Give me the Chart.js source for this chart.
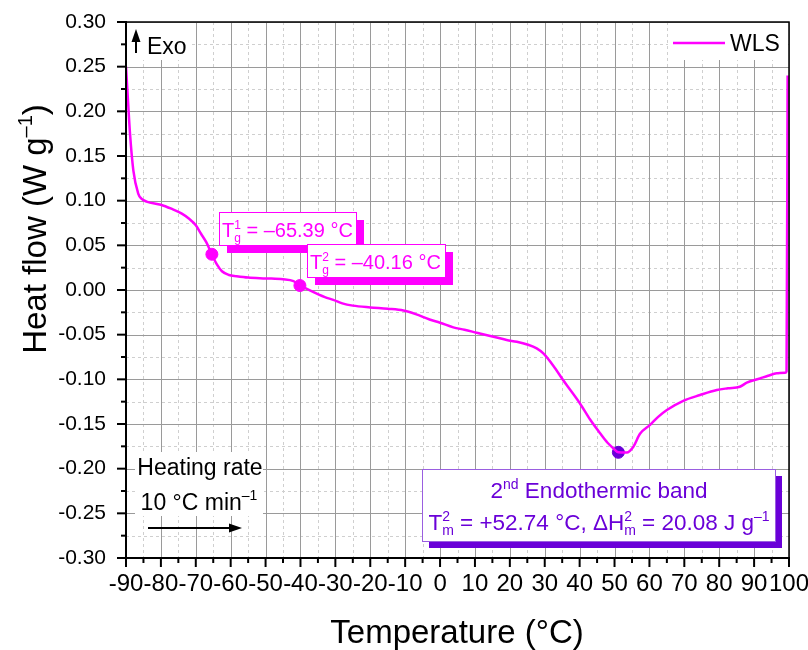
<!DOCTYPE html>
<html>
<head>
<meta charset="utf-8">
<script src="https://cdn.jsdelivr.net/npm/chart.js@4"></script>
<style>
  body { margin: 0; background: #fff; }
</style>
</head>
<body>
<canvas id="dsc" width="808" height="650"></canvas>
<script>
// DSC curve
const temps = [-90, -89.4, -88.85, -87.9, -86.5, -85.5, -84.1, -80, -77, -74, -72, -70, -68.5, -67, -65.4, -64, -62.5, -60.5, -58.3, -55,
  -50, -45, -42, -40.2, -37, -33, -30.6, -28, -25, -20, -15, -10.5, -7, -3, 0, 3.8, 7, 10.5, 15, 19.1,
  22, 25, 27.7, 29.6, 32.5, 35.3, 40.1, 43, 45.8, 48, 49.6, 51.1, 53.5, 55.4, 57.3, 60.2, 62.5, 65, 69.7, 74.5,
  79.3, 82.5, 85.9, 87.9, 91.7, 94, 96.5, 98.9, 99.3, 99.6];
const heatFlow = [0.25, 0.21, 0.175, 0.134, 0.108, 0.102, 0.099, 0.0955, 0.091, 0.0855, 0.080, 0.0725, 0.063, 0.0535, 0.040, 0.029, 0.021, 0.0168, 0.0155, 0.014,
  0.013, 0.012, 0.010, 0.0055, -0.001, -0.008, -0.011, -0.015, -0.0175, -0.0195, -0.021, -0.023, -0.027, -0.033, -0.0366, -0.0418, -0.0445, -0.0478, -0.052, -0.056,
  -0.058, -0.061, -0.0653, -0.071, -0.085, -0.101, -0.127, -0.145, -0.160, -0.171, -0.177, -0.1817, -0.182, -0.1754, -0.161, -0.151, -0.142, -0.1343, -0.124, -0.1176,
  -0.112, -0.110, -0.1083, -0.1038, -0.099, -0.096, -0.0933, -0.0926, -0.091, 0.24];

// marked points
const tgTemps = [-65.39, -40.16];
const tgFlow = [0.040, 0.005];
const tmTemps = [51.1];
const tmFlow = [-0.1817];

const FONT = '"Liberation Sans", Arial, sans-serif';
const MAGENTA = '#ff00ff';
const PURPLE = '#6a00d8';

// draw text with sub/superscripts: segs = [{t}, {sup}, {sub, sup}]
function richWidth(ctx, segs, size) {
  let w = 0;
  segs.forEach(s => {
    if (s.t !== undefined) {
      ctx.font = size + 'px ' + FONT;
      w += ctx.measureText(s.t).width;
    } else {
      ctx.font = Math.round(size * 0.62) + 'px ' + FONT;
      w += Math.max(s.sub ? ctx.measureText(s.sub).width : 0, s.sup ? ctx.measureText(s.sup).width : 0);
    }
  });
  return w;
}
function drawRich(ctx, segs, x, y, size, color, align) {
  let w = richWidth(ctx, segs, size);
  if (align === 'center') x -= w / 2;
  ctx.fillStyle = color;
  ctx.textAlign = 'left';
  ctx.textBaseline = 'alphabetic';
  segs.forEach(s => {
    if (s.t !== undefined) {
      ctx.font = size + 'px ' + FONT;
      ctx.fillText(s.t, x, y);
      x += ctx.measureText(s.t).width;
    } else {
      ctx.font = Math.round(size * 0.62) + 'px ' + FONT;
      let ww = 0;
      if (s.sup) { ctx.fillText(s.sup, x, y - size * 0.42); ww = ctx.measureText(s.sup).width; }
      if (s.sub) { ctx.fillText(s.sub, x, y + size * 0.24); ww = Math.max(ww, ctx.measureText(s.sub).width); }
      x += ww;
    }
  });
}
function arrow(ctx, x1, y1, x2, y2) {
  const a = Math.atan2(y2 - y1, x2 - x1);
  ctx.strokeStyle = '#000';
  ctx.fillStyle = '#000';
  ctx.lineWidth = 2;
  ctx.beginPath();
  ctx.moveTo(x1, y1);
  ctx.lineTo(x2 - 8 * Math.cos(a), y2 - 8 * Math.sin(a));
  ctx.stroke();
  ctx.beginPath();
  ctx.moveTo(x2, y2);
  ctx.lineTo(x2 - 13 * Math.cos(a) + 4.5 * Math.sin(a), y2 - 13 * Math.sin(a) - 4.5 * Math.cos(a));
  ctx.lineTo(x2 - 13 * Math.cos(a) - 4.5 * Math.sin(a), y2 - 13 * Math.sin(a) + 4.5 * Math.cos(a));
  ctx.closePath();
  ctx.fill();
}
function box(ctx, x, y, w, h, color, border, shadow) {
  ctx.fillStyle = color;
  ctx.fillRect(x + shadow, y + shadow, w, h);
  ctx.fillStyle = '#fff';
  ctx.fillRect(x, y, w, h);
  ctx.strokeStyle = border;
  ctx.lineWidth = 1;
  ctx.strokeRect(x + 0.5, y + 0.5, w, h);
}

// grid, frame, ticks and the texts inside the plot
const decor = {
  id: 'decor',
  beforeDatasetsDraw(chart) {
    const { ctx, chartArea: a, scales: { x, y } } = chart;
    ctx.save();
    ctx.lineWidth = 1;
    // minor dashed
    ctx.strokeStyle = '#cfcfcf';
    ctx.setLineDash([3, 3]);
    for (let v = -85; v < 100; v += 10) {
      const px = Math.round(x.getPixelForValue(v)) + 0.5;
      ctx.beginPath(); ctx.moveTo(px, a.top); ctx.lineTo(px, a.bottom); ctx.stroke();
    }
    for (let v = -0.275; v < 0.3; v += 0.05) {
      const py = Math.round(y.getPixelForValue(v)) + 0.5;
      ctx.beginPath(); ctx.moveTo(a.left, py); ctx.lineTo(a.right, py); ctx.stroke();
    }
    // major solid
    ctx.setLineDash([]);
    ctx.strokeStyle = '#9a9a9a';
    x.ticks.forEach(t => {
      const px = Math.round(x.getPixelForValue(t.value)) + 0.5;
      ctx.beginPath(); ctx.moveTo(px, a.top); ctx.lineTo(px, a.bottom); ctx.stroke();
    });
    y.ticks.forEach(t => {
      const py = Math.round(y.getPixelForValue(t.value)) + 0.5;
      ctx.beginPath(); ctx.moveTo(a.left, py); ctx.lineTo(a.right, py); ctx.stroke();
    });
    // white backgrounds behind the in-plot notes
    ctx.fillStyle = '#fff';
    ctx.fillRect(a.left + 1, a.top + 1, 62, 37);
    ctx.fillRect(668, a.top + 1, a.right - 669, 37);
    ctx.fillRect(135, 452, 128, 64);
    ctx.restore();
  },
  afterDatasetsDraw(chart) {
    const { ctx, chartArea: a, scales: { x, y } } = chart;
    ctx.save();
    // frame
    ctx.strokeStyle = '#000';
    ctx.lineWidth = 1.5;
    ctx.beginPath();
    ctx.moveTo(a.left, a.top); ctx.lineTo(a.right, a.top); ctx.lineTo(a.right, a.bottom);
    ctx.stroke();
    ctx.lineWidth = 2;
    ctx.beginPath();
    ctx.moveTo(a.left, a.top - 1); ctx.lineTo(a.left, a.bottom); ctx.lineTo(a.right + 1, a.bottom);
    ctx.stroke();
    // ticks
    for (let v = -90; v <= 100; v += 5) {
      const px = x.getPixelForValue(v);
      const len = v % 10 === 0 ? 9 : 5;
      ctx.beginPath(); ctx.moveTo(px, a.bottom); ctx.lineTo(px, a.bottom + len); ctx.stroke();
    }
    for (let i = 0; i <= 24; i++) {
      const v = -0.3 + i * 0.025;
      const py = y.getPixelForValue(v);
      const len = i % 2 === 0 ? 9 : 5;
      ctx.beginPath(); ctx.moveTo(a.left, py); ctx.lineTo(a.left - len, py); ctx.stroke();
    }

    // Exo
    arrow(ctx, 136, 53, 136, 29);
    drawRich(ctx, [{ t: 'Exo' }], 147, 54, 23, '#000');

    // legend
    const ds = chart.data.datasets[0];
    ctx.strokeStyle = ds.borderColor;
    ctx.lineWidth = 2.5;
    ctx.beginPath(); ctx.moveTo(673, 43); ctx.lineTo(725, 43); ctx.stroke();
    drawRich(ctx, [{ t: ds.label }], 730, 51, 23, '#000');

    // heating rate
    drawRich(ctx, [{ t: 'Heating rate' }], 200, 475, 23, '#000', 'center');
    drawRich(ctx, [{ t: '10 °C min' }, { sup: '–1' }], 199, 510, 23, '#000', 'center');
    arrow(ctx, 148, 528, 242, 528);

    // Tg boxes
    box(ctx, 219, 212, 137, 33, MAGENTA, MAGENTA, 8);
    drawRich(ctx, [{ t: 'T' }, { sub: 'g', sup: '1' }, { t: ' = –65.39 °C' }], 222, 237, 20, MAGENTA);
    box(ctx, 307, 244, 138, 33, MAGENTA, MAGENTA, 8);
    drawRich(ctx, [{ t: 'T' }, { sub: 'g', sup: '2' }, { t: ' = –40.16 °C' }], 310, 269, 20, MAGENTA);

    // endothermic band box
    box(ctx, 422, 469, 353, 72, PURPLE, '#9a5ee0', 7);
    drawRich(ctx, [{ t: '2' }, { sup: 'nd' }, { t: ' Endothermic band' }], 599, 498, 22.5, PURPLE, 'center');
    drawRich(ctx, [{ t: 'T' }, { sub: 'm', sup: '2' }, { t: ' = +52.74 °C, ΔH' }, { sub: 'm', sup: '2' }, { t: ' = 20.08 J g' }, { sup: '–1' }],
      599, 530, 22.5, PURPLE, 'center');

    // axis titles
    drawRich(ctx, [{ t: 'Temperature (°C)' }], 457, 643, 33, '#000', 'center');
    ctx.translate(46, 229);
    ctx.rotate(-Math.PI / 2);
    drawRich(ctx, [{ t: 'Heat flow (W g' }, { sup: '–1' }, { t: ')' }], 0, 0, 33, '#000', 'center');
    ctx.restore();
  }
};

new Chart(document.getElementById('dsc'), {
  type: 'scatter',
  data: {
    datasets: [
      {
        label: 'WLS',
        data: temps.map((t, i) => ({ x: t, y: heatFlow[i] })),
        showLine: true,
        borderColor: MAGENTA,
        borderWidth: 2.5,
        pointRadius: 0,
        cubicInterpolationMode: 'monotone'
      },
      {
        label: 'Tg',
        data: tgTemps.map((t, i) => ({ x: t, y: tgFlow[i] })),
        pointRadius: 6,
        backgroundColor: MAGENTA,
        borderColor: MAGENTA
      },
      {
        label: 'Tm',
        data: tmTemps.map((t, i) => ({ x: t, y: tmFlow[i] })),
        pointRadius: 6,
        backgroundColor: PURPLE,
        borderColor: PURPLE
      }
    ]
  },
  options: {
    responsive: false,
    animation: false,
    layout: { padding: { left: 0, top: 22, right: 19, bottom: 0 } },
    plugins: { legend: { display: false }, tooltip: { enabled: false } },
    scales: {
      x: {
        type: 'linear', min: -90, max: 100,
        ticks: { stepSize: 10, color: '#000', font: { family: FONT, size: 24 }, maxRotation: 0, autoSkip: false, padding: 12 },
        grid: { display: true, drawOnChartArea: false, drawTicks: false },
        border: { display: false },
        afterFit: s => { s.height = 92; s.paddingLeft = 0; s.paddingRight = 0; }
      },
      y: {
        min: -0.3, max: 0.3,
        ticks: {
          stepSize: 0.05, color: '#000', font: { family: FONT, size: 21 }, padding: 20,
          callback: v => (Math.abs(v) < 1e-9 ? 0 : v).toFixed(2)
        },
        grid: { display: true, drawOnChartArea: false, drawTicks: false },
        border: { display: false },
        afterFit: s => { s.width = 126; s.paddingTop = 0; s.paddingBottom = 0; }
      }
    }
  },
  plugins: [decor]
});
</script>
</body>
</html>
